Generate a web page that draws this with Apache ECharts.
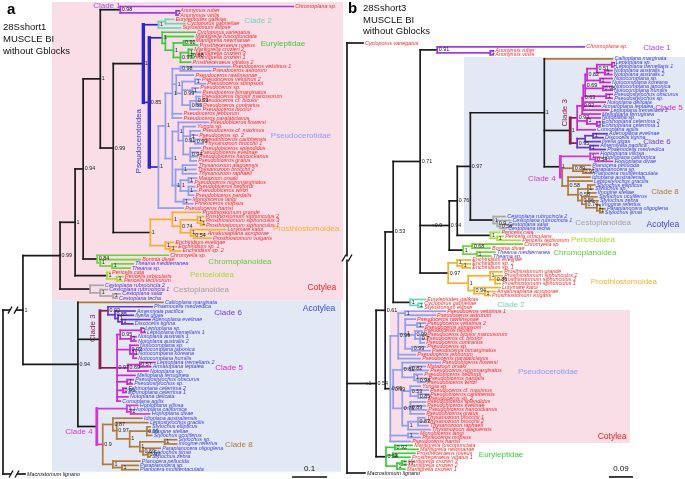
<!DOCTYPE html>
<html><head><meta charset="utf-8">
<script src="https://cdn.jsdelivr.net/npm/echarts@6/dist/echarts.min.js"></script>
<style>html,body{margin:0;padding:0;background:#fff}#c{width:685px;height:479px}</style>
</head><body><div id="c"></div>
<script>
// ===================== DATA =====================
// Newick subtrees: leaf:branchLength, (..)support#cladeTag:branchLength ; lengths in substitutions/site
// ---- Panel a: 28Sshort1 MUSCLE BI without Gblocks
const A_clade1 = "(Chromoplana sp.:0.494,(Anonymus ruber:0.006,Anonymus virilis:0.006)1:0.16)0.98#c1:0.057";
const A_clade2 = "((Euryleptodes galikias:0.023,Cycloporus gabriellae:0.057):0.02,Stylostomum ellipse:0.063)1#c2:0.043";
const A_eury = "(Cycloporus variegatus:0.094,(Maritigrella fuscopunctata:0.08,((Maritigrella newmanae:0.029,Prostheceraeus roseus:0.04)0.92:0.029,((Maritigrella crozieri 2:0.011,(Maritigrella crozieri 3:0.006,Maritigrella crozieri 1:0.006)0.68:0.009)1:0.023,Prostheceraeus vittatus 2:0.029)0.97:0.02)1:0.023):0.009)1#eu:0.037";
const A_pseudoUpper = "((Pseudoceros velutinus 1:0.143,Pseudoceros astrorum:0.086)0.98:0.023,(Pseudoceros rawlinsonae:0.049,((Pseudoceros velutinus 2:0.014,Pseudoceros stimpsoni:0.029)1:0.037,(Pseudoceros sp.:0.017,Pseudoceros bimarginatus:0.023)1:0.029,((Pseudoceros bicolor marcusorum:0.011,Pseudoceros cf. bicolor:0.011,Pseudoceros contrarius:0.014)0.53:0.017,Pseudoceros bicolor:0.029)0.55:0.023)0.99:0.017)1:0.011,Pseudoceros jebborum:0.026,Pseudoceros paralaticlavus:0.026)1:0.02";
const A_pseudoLower = "((Pseudobiceros flowersi:0.086,(Yungia sp.:0.034,(Pseudoceros cf. maximus:0.029,Pseudoceros sp. 2:0.02,(Pseudobiceros caribbensis:0.014,Thysanozoon brocchii 1:0.023)0.99:0.014)1:0.02,(Pseudobiceros splendidus:0.029,Pseudobiceros evelinae:0.023,Pseudobiceros hancockanus:0.02,Pseudobiceros gratus:0.017)0.94:0.02)0.91:0.014)1:0.017,((Thysanozoon alagoensis:0.04,Thysanozoon brocchii 2:0.037,Thysanozoon raphaeli:0.04)1:0.02,((Maiazoon orsaki:0.023,Pseudoceros nigromarginatus:0.011)1:0.023,(Pseudobiceros bedfordi:0.017,Pseudobiceros wirtzi:0.023,Pseudobiceros pardalis:0.014)1:0.023)1:0.014,(Monobiceros langi:0.02,Phrikoceros mopsus:0.026)1:0.023)1:0.009)1:0.02";
const A_pseudo = `((${A_pseudoUpper},${A_pseudoLower})1:0.02,Pseudoceros harrisi:0.071)1#ps:0.026`;
const A_prostio = "((Prosthiostomum grande:0.08,((Prosthiostomum siphunculus 2:0.017,(Prosthiostomum siphunculus 3:0.009,Prosthiostomum siphunculus 1:0.009)1:0.009)1:0.049,(Lurymare katoi:0.1,(Amakusaplana acroporae:0.034,Prosthiostomum vulgaris:0.049)0.54:0.009)1:0.029)0.74:0.023)1:0.063,(Enchiridium evelinae:0.023,(Enchiridium sp. 1:0.017,Enchiridium sp. 2:0.029)1:0.014)1:0.043)1#pr:0.106";
const A_chromo = "(Chromyella sp.:0.203,(Boninia divae:0.114,(Theama mediterranea:0.06,Theama sp.:0.051)1:0.034)1:0.009)0.84#ch:0.04";
const A_peri = "(Pericelis cata:0.009,(Pericelis orbicularis:0.017,Pericelis tectivorum:0.014)1:0.029)1#pe:0.091";
const A_cesto = "(Cestoplana rubrocincta 2:0.037,(Cestoplana rubrocincta 1:0.02,(Cestoplana salar:0.02,Cestoplana techa:0.011)1:0.037)1:0.029)#ce:0.086";
const A_clade6 = "(Phaenocelis medvedica:0.126,(Amemiyaia pacifica:0.057,(Ilyella gigas:0.043,(Adenoplana evelinae:0.08,Discocelis tigrina:0.031)1:0.011)1:0.009)0.85:0.02)0.93#c6:0.023";
const A_clade5 = "(((Leptoplana sp.:0.006,Leptoplana tremellaris 1:0.011)1:0.06,(Notoplana australis 1:0.014,Notoplana australis 2:0.014)1:0.031)0.95:0.009,(Notocomplana sp.:0.023,(Notocomplana japonica:0.009,Notocomplana koreana:0.009,Notocomplana humilis:0.009)1:0.009)0.92:0.037,((Leptoplana tremellaris 2:0.043,Armatoplana leptalea:0.031)0.57:0.034,Notoplana sp.:0.057)0.69:0.031,Melloplana ferruginea:0.051,(Pseudostylochus obscurus:0.017,Pseudostylochus sp.:0.014)1:0.029,(Echinoplana celerrima 2:0.009,Echinoplana celerrima 1:0.009)0.99:0.017,Notoplana delicata:0.031,Comoplana agilis:0.009)0.97#c5:0.049";
const A_clade8 = "((Idioplana australiensis:0.083,(Leptostylochus gracilis:0.089,((Stylochus ellipticus:0.009,Imogine stellae:0.009,Stylochus oculiferus:0.014)0.99:0.049,((Stylochus sp.:0.034,Imogine refertus:0.034)1:0.071,(Paraplanocera oligoglena:0.049,(Stylochus ijimai:0.011,Stylochus zebra:0.006)0.97:0.014)0.69:0.009)1:0.029)1:0.037)0.97:0.011)0.87:0.029,(Planocera pellucida:0.077,(Paraplanocera sp.:0.046,Planocera multitentaculata:0.046)1:0.026)1:0.029)0.9#c8:0.017";
const A_hoplo = "(Hoploplana villosa:0.031,(Hoploplana californica:0.003,Hoploplana divae:0.054)1:0.011)1:0.086";
const A_pseudocerotoidea = `(${A_clade2},(${A_eury},${A_pseudo})0.85#pso:0.017)1#pso:0.086`;
const A_cotylea = `((((${A_clade1},(${A_pseudocerotoidea},${A_prostio})0.99:0.037)1:0.049,${A_chromo})0.94:0.023,${A_peri})1:0.043,${A_cesto})0.99:0.106`;
const A_acotylea = `(Callioplana marginata#c8:0.243,(${A_clade6},${A_clade5})#c3:0.063,(${A_hoplo},${A_clade8})#c4:0.054)0.94:0.157`;
const A_tree = `((${A_cotylea},${A_acotylea})1:0.057,Macrostomum lignano:0.063);`;

// ---- Panel b: 28Sshort3 MUSCLE BI without Gblocks
const B_clade1 = "(Chromoplana sp.:0.551,(Anonymus ruber:0.011,Anonymus virilis:0.011)1:0.199)0.91#c1:0.064";
const B_clade5 = "((((((Leptoplana sp.:0.007,Leptoplana tremellaris 1:0.007)1:0.056,(Notoplana australis 1:0.026,Notoplana australis 2:0.026)1:0.03)0.51:0.037,(Notocomplana sp.:0.045,Notocomplana koreana:0.037)1:0.049)0.82:0.007,(Notocomplana japonica:0.034,Notocomplana humilis:0.034)0.98:0.067,(Pseudostylochus obscurus:0.022,Pseudostylochus sp.:0.022)1:0.079)0.69:0.007,Notoplana delicata:0.082,Armatoplana leptalea:0.064,Leptoplana tremellaris 2:0.094)0.63:0.004,Melloplana ferruginea:0.067)0.92:0.019";
const B_clade5b = "(Notoplana sp.:0.049,(Echinoplana celerrima 2:0.011,Echinoplana celerrima 1:0.011)1:0.037)1:0.037,Comoplana agilis:0.067";
const B_clade6 = "(((Adenoplana evelinae:0.052,Discocelis tigrina:0.037)1:0.03,Ilyella gigas:0.056):0.03,(Amemiyaia pacifica:0.03,Phaenocelis medvedica:0.056)1:0.049)0.95#c6:0.026";
const B_hoplo = "(Hoploplana villosa:0.03,(Hoploplana californica:0.019,Hoploplana divae:0.064)0.54:0.019)1:0.112";
const B_clade8 = "((Planocera pellucida:0.064,(Paraplanocera sp.:0.026,Planocera multitentaculata:0.034)0.91:0.037)0.89:0.041,(Idioplana australiensis:0.082,Leptostylochus gracilis:0.09,((Stylochus ellipticus:0.026,Stylochus sp.:0.019,Imogine stellae:0.03)1:0.037,(Stylochus oculiferus:0.056,(Stylochus zebra:0.045,(Imogine refertus:0.011,(Paraplanocera oligoglena:0.019,Stylochus ijimai:0.011)1:0.011)1:0.041)0.74:0.015)0.56:0.015)0.58:0.037)0.58:0.022)#c8:0.007";
const B_cesto = "(Cestoplana rubrocincta 2:0.045,(Cestoplana rubrocincta 1:0.049,(Cestoplana salar:0.022,Cestoplana techa:0.022)0.58:0.011)0.9:0.015)1#ce:0.086";
const B_peri = "(Pericelis cata:0.034,(Pericelis orbicularis:0.022,Pericelis tectivorum:0.086)1:0.026)1#pe:0.124";
const B_chromo = "((Chromyella sp.:0.187,Boninia divae:0.067)0.68:0.034,(Theama mediterranea:0.067,Theama sp.:0.052)1:0.052)1#ch:0.052";
const B_prostio = "((Enchiridium evelinae:0.049,(Enchiridium sp. 2:0.03,Enchiridium sp. 1:0.03)1:0.019)1:0.034,((Prosthiostomum grande:0.045,(Prosthiostomum siphunculus 2:0.026,Prosthiostomum siphunculus 3:0.019,Prosthiostomum siphunculus 1:0.019)0.86:0.019)1:0.082,(Lurymare katoi:0.097,(Amakusaplana acroporae:0.037,Prosthiostomum vulgaris:0.019)1:0.041)0.94:0.022)1:0.075)0.97#pr:0.105";
const B_clade2 = "(Euryleptodes galikias:0.056,(Cycloporus gabriellae:0.015,Stylostomum ellipse:0.015)1:0.03)1#c2:0.064";
const B_pseudoUpper = "((Pseudoceros velutinus 1:0.15,Pseudoceros astrorum:0.112)1:0.026,(Pseudoceros rawlinsonae:0.037,(Pseudoceros velutinus 2:0.03,Pseudoceros stimpsoni:0.022)1:0.045,(Pseudoceros bicolor:0.026,(Pseudoceros bicolor marcusorum:0.019,Pseudoceros cf. bicolor:0.015,Pseudoceros contrarius:0.015)0.7:0.019)0.99:0.037,(Pseudoceros sp.:0.049,Pseudoceros bimarginatus:0.067)0.99:0.026)1:0.026,Pseudoceros jebborum:0.064,Pseudoceros paralaticlavus:0.082)0.99:0.03";
const B_pseudoLower = "((Pseudobiceros flowersi:0.142,(Maiazoon orsaki:0.056,Pseudoceros nigromarginatus:0.067)0.82:0.03,(Pseudobiceros bedfordi:0.03,(Pseudobiceros pardalis:0.03,Pseudobiceros wirtzi:0.026)0.98:0.015)1:0.045)0.81:0.034,((Yungia sp.:0.037,Pseudoceros cf. maximus:0.067,(Pseudobiceros caribbensis:0.037,Pseudoceros sp. 2:0.03)0.85:0.03)0.53:0.03,(Pseudobiceros splendidus:0.056,Pseudobiceros evelinae:0.056,Pseudobiceros hancockanus:0.06,Pseudobiceros gratus:0.052)0.89:0.03,((Thysanozoon brocchii 1:0.026,Thysanozoon brocchii 2:0.026,Thysanozoon raphaeli:0.037)0.83:0.037,Thysanozoon alagoensis:0.082)1:0.022)0.76:0.034)0.99:0.011";
const B_pseudo = `(${B_pseudoUpper},${B_pseudoLower},(Monobiceros langi:0.037,Phrikoceros mopsus:0.045)1:0.067,Pseudoceros harrisi:0.075)0.99#ps:0.019`;
const B_eury = "((Maritigrella fuscopunctata:0.064,Maritigrella newmanae:0.086)0.92:0.034,(Prostheceraeus roseus:0.082,Prostheceraeus vittatus 1:0.064)1:0.026,((Maritigrella crozieri 3:0.015,Maritigrella crozieri 2:0.015)0.77:0.019,Maritigrella crozieri 1:0.03)1:0.041)0.98#eu:0.037";
const B_acotylea = `(Callioplana marginata#c8:0.255,((${B_clade5},${B_clade5b})0.93#c5:0.026,${B_clade6})1#c3:0.097,(${B_hoplo},${B_clade8})1#c4:0.06)1:0.277`;
const B_upper = `(${B_clade1},((((${B_acotylea},${B_cesto})0.97:0.049,${B_peri})0.76:0.03,${B_chromo})0.94:0.06)0.9:0.049`;
const B_tree = `((Cycloporus variegatus:0.06,((((${B_upper},${B_prostio})0.71:0.101,${B_clade2})0.53:0.03,${B_pseudo})0.61:0.034,${B_eury})0.54:0.034)1:0.075,Macrostomum lignano:0.067);`;

// Genera whose names are printed in blue (acotylean taxa); outgroup in black
const acotyleanGenera = ["Callioplana","Phaenocelis","Amemiyaia","Ilyella","Adenoplana","Discocelis","Leptoplana","Notoplana","Notocomplana","Armatoplana","Melloplana","Pseudostylochus","Echinoplana","Comoplana","Hoploplana","Idioplana","Leptostylochus","Stylochus","Imogine","Paraplanocera","Planocera","Cestoplana","Theama"];
const outgroupGenera = ["Macrostomum"];

// Clade annotation labels: [text, styleKey, depth, leafIndexPosition, rotated]
const A_labels = [
  ["Clade 1","c1",0.297,-0.1,0],["Clade 2","c2",0.729,3.4,0],["Euryleptidae","eu",0.80,8.75,0],
  ["Pseudocerotidae","ps",0.851,30.2,0],["Pseudocerotoidea","pso",0.389,31.4,1],["Prosthiostomoidea","pr",0.866,51.9,0],
  ["Chromoplanoidea","ch",0.677,59.6,0],["Periceloidea","pe",0.597,62.6,0],["Cestoplanoidea","ce",0.566,66.1,0],
  ["Cotylea","cot",0.911,65.6,0],["Acotylea","acot",0.903,70.5,0],["Clade 6","c6",0.643,71.5,0],
  ["Clade 3","c3",0.257,75,1],["Clade 5","c5",0.646,84.3,0],["Clade 4","c4",0.217,99.2,0],["Clade 8","c8",0.674,102.2,0]
];
const B_labels = [
  ["Clade 1","c1",1.161,1.27,0],["Clade 5","c5",1.206,16.5,0],["Clade 3","c3",0.816,17.7,1],["Clade 6","c6",1.161,25.1,0],
  ["Clade 4","c4",0.730,34.5,0],["Clade 8","c8",1.191,37.8,0],["Cestoplanoidea","ce",0.959,45.6,0],["Acotylea","acot",1.183,46.1,0],
  ["Periceloidea","pe",0.921,49.9,0],["Chromoplanoidea","ch",0.891,53.2,0],["Prosthiostomoidea","pr",1.037,60.6,0],
  ["Clade 2","c2",0.614,66.4,0],["Pseudocerotidae","ps",0.753,83.4,0],["Cotylea","cot",0.993,99.9,0],["Euryleptidae","eu",0.577,104.4,0]
];
// Shaded groups: [name, depthFrom, depthTo, leafFrom, leafTo]
const A_bands = [["Cotylea",0.14,0.972,-1.05,68.5],["Acotylea",0.14,0.966,68.5,108.5]];
const B_bands = [["Acotylea",0.438,1.27,3.55,48.2],["Cotylea",0.161,1.06,67.7,101.4]];
// Scale bars: [label, length]
const A_scale = ["0.1", 0.1];
const B_scale = ["0.09", 0.09];

// ===================== STYLE =====================
const STYLE = {
  k:{c:'#1a1a1a',w:1.7}, c1:{c:'#a43be0',w:1.7}, c2:{c:'#66d9b4',w:1.7}, eu:{c:'#3ccc3c',w:1.7},
  pso:{c:'#2c22d6',w:1.7,bar:3.4}, ps:{c:'#8e9ef2',w:1.7}, pr:{c:'#f4b22c',w:1.7}, ch:{c:'#6cd437',w:1.7},
  pe:{c:'#a9e032',w:1.7}, ce:{c:'#a8a8a8',w:1.7}, c3:{c:'#8c1d47',w:1.7,bar:2.8}, c6:{c:'#6a33d6',w:1.7},
  c5:{c:'#cf27d6',w:1.7}, c4:{c:'#d437d8',w:1.7,bar:2.8}, c8:{c:'#b27a36',w:1.7},
  cot:{c:'#ff2020'}, acot:{c:'#3d45e8'}
};
const LABEL_COLOR = {pso:'#3a34d8', ps:'#8c9cf0', c2:'#6ad8b8', ch:'#5ccc3a', pe:'#a4dc2a', ce:'#a0a0a0', c1:'#a050e0', c6:'#7a3ad8'};
const BAND_FILL = {Cotylea:'#f9dde7', Acotylea:'#e3e8f5'};
const FONT = '"Liberation Sans", Arial, sans-serif';
const RED = '#ff2a2a', BLUE = '#3a40e8';

// ===================== TREE LAYOUT =====================
function parseNewick(str) {
  const s = str.replace(/\s*\n\s*/g, '');
  let i = 0;
  function node() {
    const n = {children: []};
    if (s[i] === '(') {
      i++; n.children.push(node());
      while (s[i] === ',') { i++; n.children.push(node()); }
      i++;
    }
    let lab = '';
    while (i < s.length && ':,);'.indexOf(s[i]) < 0) lab += s[i++];
    lab = lab.trim();
    let tag = null;
    if (lab.indexOf('#') >= 0) { const p = lab.split('#'); lab = p[0]; tag = p[1]; }
    if (n.children.length) n.support = lab; else n.name = lab;
    n.tag = tag;
    n.len = 0;
    if (s[i] === ':') { i++; let num = ''; while (i < s.length && ',);'.indexOf(s[i]) < 0) num += s[i++]; n.len = parseFloat(num); }
    return n;
  }
  return node();
}
function layout(root) {
  let idx = 0; const segs = [], leaves = [], inner = [];
  (function walk(n, px, pst) {
    n.x = px + n.len;
    const own = n.tag || pst;
    if (!n.children.length) {
      n.y = idx++; leaves.push(n);
      if (n.len > 0) segs.push({x1:px, y1:n.y, x2:n.x, y2:n.y, st:n.tag || pst});
    } else {
      n.children.forEach(c => walk(c, n.x, own));
      const a = n.children[0].y, b = n.children[n.children.length-1].y;
      n.y = (a + b) / 2;
      if (n.len > 0) segs.push({x1:px, y1:n.y, x2:n.x, y2:n.y, st:pst});
      segs.push({x1:n.x, y1:a, x2:n.x, y2:b, st:own, v:true, thick:!!n.tag});
      if (n.support) inner.push(n);
    }
  })(root, 0, 'k');
  return {root, segs, leaves, inner};
}
function leafColor(name) {
  const g = name.split(' ')[0];
  if (outgroupGenera.indexOf(g) >= 0) return '#111';
  return acotyleanGenera.indexOf(g) >= 0 ? BLUE : RED;
}

// ===================== SERIES BUILDERS =====================
function segSeries(gi, segs) {
  return {type:'custom', xAxisIndex:gi, yAxisIndex:gi, clip:false, silent:true, z:3,
    data: segs.map(s => [s.x1, s.y1, s.x2, s.y2]), encode:{x:[0,2], y:[1,3]},
    renderItem(params, api) {
      const s = segs[params.dataIndex], st = STYLE[s.st];
      const a = api.coord([s.x1, s.y1]), b = api.coord([s.x2, s.y2]);
      return {type:'line', shape:{x1:a[0], y1:a[1], x2:b[0], y2:b[1]},
        style:{stroke:st.c, lineWidth:(s.v && s.thick && st.bar) ? st.bar : st.w, lineCap:'square'}};
    }};
}
function textSeries(gi, items, z) {
  return {type:'custom', xAxisIndex:gi, yAxisIndex:gi, clip:false, silent:true, z:z,
    data: items.map(t => [t.x, t.y]), encode:{x:0, y:1},
    renderItem(params, api) {
      const t = items[params.dataIndex], p = api.coord([t.x, t.y]);
      return {type:'text', x:p[0] + (t.dx || 0), y:p[1] + (t.dy || 0), rotation:t.rot || 0,
        style:{text:t.text, fill:t.color, font:t.font, align:t.align || 'left', verticalAlign:'middle'}};
    }};
}
function bandSeries(gi, bands) {
  return {type:'custom', xAxisIndex:gi, yAxisIndex:gi, clip:false, silent:true, z:1,
    data: bands.map(b => [b[1], b[3], b[2], b[4]]), encode:{x:[0,2], y:[1,3]},
    renderItem(params, api) {
      const b = bands[params.dataIndex];
      const p0 = api.coord([b[1], b[3]]), p1 = api.coord([b[2], b[4]]);
      return {type:'rect', shape:{x:p0[0], y:p0[1], width:p1[0]-p0[0], height:p1[1]-p0[1]}, style:{fill:BAND_FILL[b[0]]}};
    }};
}
function breakSeries(gi, root) {
  const pts = root.children.map(c => [root.x + c.len / 2, c.y]);
  return {type:'custom', xAxisIndex:gi, yAxisIndex:gi, clip:false, silent:true, z:5,
    data: pts, encode:{x:0, y:1},
    renderItem(params, api) {
      const p = api.coord(pts[params.dataIndex]);
      return {type:'group', children:[
        {type:'rect', shape:{x:p[0]-3, y:p[1]-1.5, width:6, height:3}, style:{fill:'#fff'}},
        {type:'line', shape:{x1:p[0]-5, y1:p[1]+3.5, x2:p[0]-1, y2:p[1]-3.5}, style:{stroke:'#111', lineWidth:1.3}},
        {type:'line', shape:{x1:p[0]+1, y1:p[1]+3.5, x2:p[0]+5, y2:p[1]-3.5}, style:{stroke:'#111', lineWidth:1.3}}
      ]};
    }};
}
function scaleSeries(gi, scale, x0, y) {
  const d = [[x0, y, x0 + scale[1], y]];
  return {type:'custom', xAxisIndex:gi, yAxisIndex:gi, clip:false, silent:true, z:5,
    data: d, encode:{x:[0,2], y:[1,3]},
    renderItem(params, api) {
      const a = api.coord([d[0][0], d[0][1]]), b = api.coord([d[0][2], d[0][3]]);
      return {type:'group', children:[
        {type:'line', shape:{x1:a[0], y1:a[1], x2:b[0], y2:b[1]}, style:{stroke:'#111', lineWidth:1.6}},
        {type:'text', x:(a[0]+b[0])/2, y:a[1]-8, style:{text:scale[0], fill:'#111', font:'8px ' + FONT, align:'center', verticalAlign:'middle'}}
      ]};
    }};
}
function panelSeries(gi, tree, labels, bands, scale, scaleX, scaleY) {
  const L = layout(parseNewick(tree));
  const leafTexts = L.leaves.map(l => ({x:l.x, y:l.y, dx:2, text:l.name, color:leafColor(l.name), font:'italic 5.4px ' + FONT}));
  const supTexts = L.inner.filter(n => n !== L.root).map(n => ({x:n.x, y:n.y, dx:1.5, text:n.support, color:'#222', font:'5.4px ' + FONT}));
  const cladeTexts = labels.map(l => ({x:l[2], y:l[3], text:l[0], color:LABEL_COLOR[l[1]] || STYLE[l[1]].c,
    font:(l[1] === 'cot' || l[1] === 'acot' ? '8.5px ' : '8px ') + FONT, align:'center', rot:l[4] ? Math.PI/2 : 0}));
  return {n:L.leaves.length, series:[
    bandSeries(gi, bands), segSeries(gi, L.segs), breakSeries(gi, L.root),
    textSeries(gi, leafTexts, 6), textSeries(gi, supTexts, 6), textSeries(gi, cladeTexts, 7),
    scaleSeries(gi, scale, scaleX, scaleY)
  ]};
}

const PA = panelSeries(0, A_tree, A_labels, A_bands, A_scale, 0.826, 109.7);
const PB = panelSeries(1, B_tree, B_labels, B_bands, B_scale, 0.981, 110.0);

const chart = echarts.init(document.getElementById('c'), null, {renderer:'canvas'});
chart.setOption({
  animation:false,
  grid:[{left:3, top:6.5, width:338, height:467.5}, {left:347, top:43, width:338, height:430}],
  xAxis:[{type:'value', gridIndex:0, min:0, max:338/350, show:false}, {type:'value', gridIndex:1, min:0, max:338/267, show:false}],
  yAxis:[{type:'value', gridIndex:0, min:0, max:PA.n-1, inverse:true, show:false}, {type:'value', gridIndex:1, min:0, max:PB.n-1, inverse:true, show:false}],
  graphic:[
    {type:'text', z:100, left:7, top:2, style:{text:'a', font:'bold 15px ' + FONT, fill:'#000'}},
    {type:'text', z:100, left:3, top:21, style:{text:'28Sshort1\nMUSCLE BI\nwithout Gblocks', font:'9.5px ' + FONT, lineHeight:12, fill:'#111'}},
    {type:'text', z:100, left:348, top:1, style:{text:'b', font:'bold 15px ' + FONT, fill:'#000'}},
    {type:'text', z:100, left:363, top:3, style:{text:'28Sshort3\nMUSCLE BI\nwithout Gblocks', font:'9.5px ' + FONT, lineHeight:11.5, fill:'#111'}}
  ],
  series: PA.series.concat(PB.series)
});
</script></body></html>
